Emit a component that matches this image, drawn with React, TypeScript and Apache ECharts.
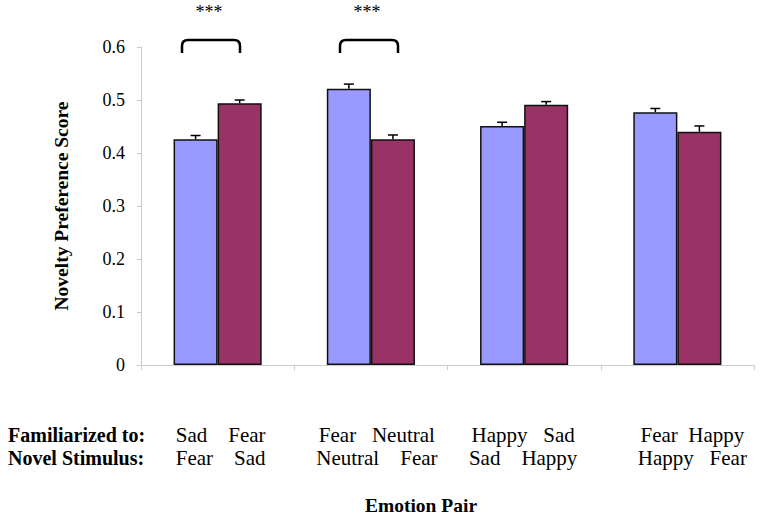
import React, { useEffect, useRef } from "react";
import * as echarts from "echarts";

const categories = ["Sad-Fear", "Fear-Neutral", "Happy-Sad", "Fear-Happy"];
const familiarized = [["Sad", "Fear"], ["Fear", "Neutral"], ["Happy", "Sad"], ["Fear", "Happy"]];
const novel = [["Fear", "Sad"], ["Neutral", "Fear"], ["Sad", "Happy"], ["Happy", "Fear"]];
const blueValues = [0.426, 0.521, 0.451, 0.477];
const blueErrors = [0.007, 0.009, 0.007, 0.007];
const redValues = [0.494, 0.426, 0.491, 0.44];
const redErrors = [0.006, 0.008, 0.006, 0.011];
const rowLabels = ["Familiarized to:", "Novel Stimulus:"];
const significance = ["***", "***"];

// layout (not data): spaces between words per row, horizontal nudge of each label block
const wordGaps = [[4, 4], [3, 4], [3, 4], [2, 3]];
const labelShift = [3, 6, -1, 15];

const FONT = "Liberation Serif";
const GAP = 0.425;

echarts.graphic.registerShape(
  "bracket",
  echarts.graphic.extendPath("M0,13 L0,6 Q0,0 6,0 L52,0 Q58,0 58,6 L58,13", {})
);

export default function App() {
  const ref = useRef<HTMLDivElement>(null);
  useEffect(() => {
    if (!ref.current) return;
    const chart = echarts.init(ref.current, null, { renderer: "svg" });
    const errData: number[][] = [];
    blueValues.forEach((v, i) => errData.push([i, v, blueErrors[i], -1]));
    redValues.forEach((v, i) => errData.push([i, v, redErrors[i], 1]));
    const barStyle = (c: string) => ({ color: c, borderColor: "#111", borderWidth: 1.5 });
    const rich: Record<string, any> = {};
    labelShift.forEach((s, i) => {
      rich["p" + i] = { width: Math.abs(s) * 2, fontSize: 21, lineHeight: 23 };
    });
    const row = (words: string[], gap: number, i: number) => {
      const txt = words[0] + " ".repeat(gap) + words[1];
      const pad = `{p${i}|}`;
      return labelShift[i] >= 0 ? pad + txt : txt + pad;
    };
    chart.setOption({
      animation: false,
      textStyle: { fontFamily: FONT },
      grid: { left: 141, right: 8, top: 47, bottom: 153 },
      xAxis: {
        type: "category",
        data: categories,
        axisLine: { lineStyle: { color: "#cccccc", width: 1 } },
        axisTick: { show: true, length: 5, lineStyle: { color: "#cccccc" } },
        axisLabel: {
          interval: 0,
          hideOverlap: false,
          margin: 58,
          fontFamily: FONT,
          fontSize: 21,
          color: "#000",
          lineHeight: 23,
          rich,
          formatter: (_v: string, i: number) =>
            row(familiarized[i], wordGaps[i][0], i) + "\n" + row(novel[i], wordGaps[i][1], i),
        },
      },
      yAxis: {
        type: "value",
        min: 0,
        max: 0.6,
        interval: 0.1,
        name: "Novelty Preference Score",
        nameLocation: "middle",
        nameGap: 70,
        nameTextStyle: { fontFamily: FONT, fontSize: 19.5, fontWeight: "bold", color: "#000" },
        axisLine: { show: true, lineStyle: { color: "#cccccc", width: 1 } },
        axisTick: { show: true, length: 4, lineStyle: { color: "#cccccc" } },
        axisLabel: { margin: 16, fontFamily: FONT, fontSize: 18, color: "#000" },
        splitLine: { show: false },
      },
      series: [
        {
          type: "bar",
          data: blueValues,
          barGap: "0%",
          barCategoryGap: GAP * 100 + "%",
          itemStyle: barStyle("#9999FF"),
        },
        {
          type: "bar",
          data: redValues,
          barGap: "0%",
          barCategoryGap: GAP * 100 + "%",
          itemStyle: barStyle("#993366"),
        },
        {
          type: "custom",
          z: 5,
          data: errData,
          encode: { x: 0, y: 1 },
          renderItem: (_p: any, api: any) => {
            const idx = api.value(0);
            const val = api.value(1);
            const err = api.value(2);
            const side = api.value(3);
            const band = api.size([1, 0])[0];
            const barW = (band * (1 - GAP)) / 2;
            const base = api.coord([idx, val]);
            const top = api.coord([idx, val + err]);
            const x = base[0] + (side * barW) / 2;
            const st = { stroke: "#000", lineWidth: 1.5 };
            return {
              type: "group",
              children: [
                { type: "line", shape: { x1: x, y1: base[1], x2: x, y2: top[1] }, style: st },
                { type: "line", shape: { x1: x - 5, y1: top[1], x2: x + 5, y2: top[1] }, style: st },
              ],
            };
          },
        },
      ],
      graphic: [
        { type: "bracket", x: 182, y: 40, style: { fill: null, stroke: "#000", lineWidth: 2.5 } },
        { type: "bracket", x: 340, y: 40, style: { fill: null, stroke: "#000", lineWidth: 2.5 } },
        {
          type: "text", x: 209, y: 12,
          style: { text: significance[0], font: `18px "${FONT}"`, fill: "#000", textAlign: "center", textVerticalAlign: "middle" },
        },
        {
          type: "text", x: 367, y: 12,
          style: { text: significance[1], font: `18px "${FONT}"`, fill: "#000", textAlign: "center", textVerticalAlign: "middle" },
        },
        {
          type: "text", x: 8, y: 435,
          style: { text: rowLabels[0], font: `bold 20px "${FONT}"`, fill: "#000", textAlign: "left", textVerticalAlign: "middle" },
        },
        {
          type: "text", x: 8, y: 458,
          style: { text: rowLabels[1], font: `bold 20px "${FONT}"`, fill: "#000", textAlign: "left", textVerticalAlign: "middle" },
        },
        {
          type: "text", x: 421, y: 505,
          style: { text: "Emotion Pair", font: `bold 19.5px "${FONT}"`, fill: "#000", textAlign: "center", textVerticalAlign: "middle" },
        },
      ],
    });
    return () => chart.dispose();
  }, []);
  return <div ref={ref} style={{ width: 762, height: 518, position: "absolute", left: 0, top: 0 }} />;
}
